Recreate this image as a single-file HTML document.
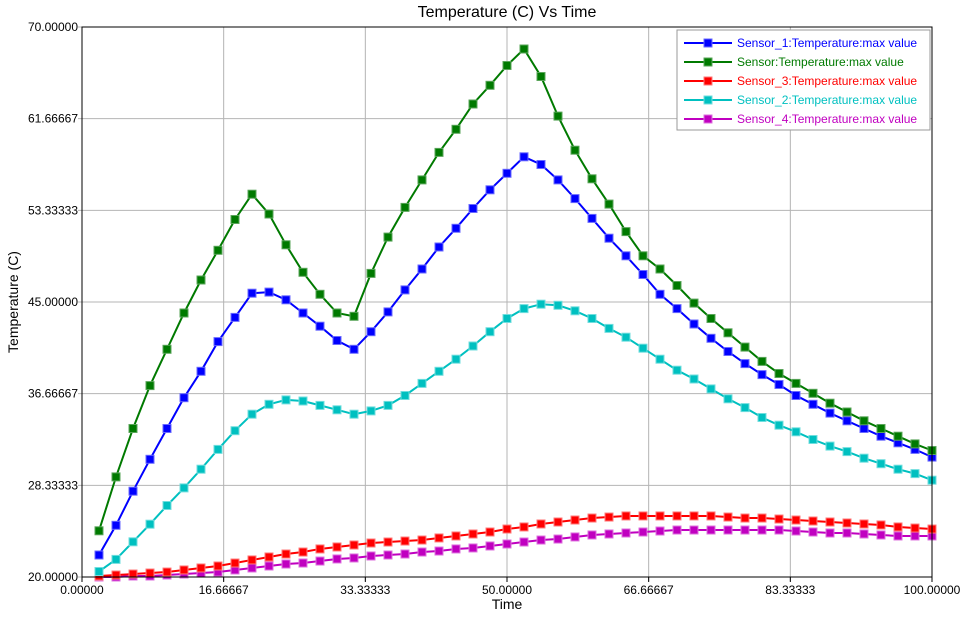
<!DOCTYPE html>
<html><head><meta charset="utf-8"><style>
body{margin:0;background:#fff;font-family:"Liberation Sans",Arial,sans-serif}
svg text{font-family:"Liberation Sans",Arial,sans-serif}
</style></head><body>
<svg id="chart" width="965" height="617" xmlns="http://www.w3.org/2000/svg">
<rect width="965" height="617" fill="#fff"/>
<text x="507" y="17" font-size="16" text-anchor="middle">Temperature (C) Vs Time</text>
<g id="grid"></g>
<g id="series"></g>
<rect x="82" y="27" width="850" height="550" fill="none" stroke="#000" stroke-width="1"/>
<text x="507" y="609" font-size="14" text-anchor="middle">Time</text>
<text transform="translate(18,302) rotate(-90)" font-size="14" text-anchor="middle">Temperature (C)</text>
<g id="legend"></g>
</svg>
<script>
const xVals=[];for(let i=1;i<=50;i++)xVals.push(i*2);
const xTicks=[0,16.66667,33.33333,50,66.66667,83.33333,100];
const xTickLabels=["0.00000","16.66667","33.33333","50.00000","66.66667","83.33333","100.00000"];
const yTicks=[20,28.33333,36.66667,45,53.33333,61.66667,70];
const yTickLabels=["20.00000","28.33333","36.66667","45.00000","53.33333","61.66667","70.00000"];
const seriesNames=["Sensor_1:Temperature:max value","Sensor:Temperature:max value","Sensor_3:Temperature:max value","Sensor_2:Temperature:max value","Sensor_4:Temperature:max value"];
const sensor1=[22.0,24.7,27.8,30.7,33.5,36.3,38.7,41.4,43.6,45.8,45.9,45.2,44.0,42.8,41.5,40.7,42.3,44.1,46.1,48.0,50.0,51.7,53.5,55.2,56.7,58.2,57.5,56.1,54.4,52.6,50.8,49.2,47.5,45.7,44.4,43.0,41.7,40.5,39.4,38.4,37.5,36.5,35.7,34.9,34.2,33.5,32.8,32.2,31.6,30.9];
const sensor=[24.2,29.1,33.5,37.4,40.7,44.0,47.0,49.7,52.5,54.8,53.0,50.2,47.7,45.7,44.0,43.7,47.6,50.9,53.6,56.1,58.6,60.7,63.0,64.7,66.5,68.0,65.5,61.9,58.8,56.2,53.9,51.4,49.2,48.0,46.5,44.9,43.5,42.2,40.9,39.6,38.5,37.6,36.7,35.8,35.0,34.2,33.5,32.8,32.1,31.5];
const sensor3=[20.09,20.18,20.27,20.36,20.45,20.64,20.82,21.0,21.27,21.55,21.82,22.09,22.27,22.55,22.73,22.91,23.09,23.18,23.27,23.36,23.55,23.73,23.91,24.09,24.36,24.55,24.82,25.0,25.18,25.36,25.45,25.55,25.55,25.55,25.55,25.55,25.55,25.45,25.36,25.36,25.27,25.18,25.09,25.0,24.91,24.82,24.73,24.55,24.45,24.36];
const sensor2=[20.5,21.6,23.2,24.8,26.5,28.1,29.8,31.6,33.3,34.8,35.7,36.1,36.0,35.6,35.2,34.8,35.1,35.6,36.5,37.6,38.7,39.8,41.0,42.3,43.5,44.4,44.8,44.7,44.2,43.5,42.6,41.8,40.8,39.8,38.8,38.0,37.1,36.2,35.4,34.5,33.8,33.2,32.5,31.9,31.4,30.8,30.3,29.8,29.4,28.8];
const sensor4=[20.0,20.0,20.09,20.09,20.18,20.27,20.36,20.45,20.64,20.82,21.0,21.18,21.27,21.45,21.64,21.73,21.91,22.0,22.09,22.27,22.36,22.55,22.64,22.82,23.0,23.18,23.36,23.45,23.64,23.82,23.91,24.0,24.09,24.18,24.27,24.27,24.27,24.27,24.27,24.27,24.27,24.18,24.09,24.0,24.0,23.91,23.82,23.73,23.73,23.73];
const NS="http://www.w3.org/2000/svg";
const X0=82,X1=932,Y0=577,Y1=27;
const xs=v=>X0+(v-0)/100*(X1-X0);
const ys=v=>Y0-(v-20)/50*(Y0-Y1);
function mk(t,a,p){const e=document.createElementNS(NS,t);for(const k in a)e.setAttribute(k,a[k]);p.appendChild(e);return e;}
const grid=document.getElementById('grid');
const svg=document.getElementById('chart');
xTicks.forEach((t,i)=>{
  const l=mk('line',{x1:xs(t),x2:xs(t),y1:Y1,y2:Y0+4,stroke:'#b4b4b4','stroke-width':1},grid);
  
  
  const tk=mk('line',{x1:xs(t),x2:xs(t),y1:Y0,y2:Y0+5,stroke:'#000'},grid);
  
  
  const tx=mk('text',{x:xs(t),y:594,'font-size':12,'text-anchor':'middle'},svg);
  tx.textContent=xTickLabels[i];
  
  
});
yTicks.forEach((t,i)=>{
  const l=mk('line',{x1:X0-4,x2:X1,y1:ys(t),y2:ys(t),stroke:'#b4b4b4','stroke-width':1},grid);
  
  
  const tx=mk('text',{x:78,y:ys(t)+4,'font-size':12,'text-anchor':'end'},svg);
  tx.textContent=yTickLabels[i];
  
  
});
const all=[[sensor1,'#0000ff','#6a6aff'],[sensor,'#007a00','#5aa55a'],[sensor3,'#ff0000','#ff7a7a'],[sensor2,'#00c0c0','#70dede'],[sensor4,'#c000c0','#de70de']];
const sg=document.getElementById('series');
const order=[4,2,3,0,1];
order.forEach(si=>{
  const [d,c,cl]=all[si];
  const g=mk('g',{},sg);
  
  
  const pl=mk('polyline',{points:d.map((v,i)=>xs(xVals[i])+','+ys(v)).join(' '),fill:'none',stroke:c,'stroke-width':2},g);
  
  
  d.forEach((v,i)=>{
    const r=mk('rect',{x:xs(xVals[i])-4,y:ys(v)-4,width:8,height:8,fill:c,stroke:cl,'stroke-width':1},g);
    
    
  });
});
const lg=document.getElementById('legend');
const box=mk('rect',{x:677,y:30,width:253,height:100,fill:'#fff',stroke:'#999'},lg);


seriesNames.forEach((n,i)=>{
  const [,c,cl]=all[i];const y=43+i*19;
  const g=mk('g',{},lg);
  
  
  mk('line',{x1:684,x2:732,y1:y,y2:y,stroke:c,'stroke-width':2},g);
  mk('rect',{x:704,y:y-4,width:8,height:8,fill:c,stroke:cl},g);
  const t=mk('text',{x:737,y:y+4,'font-size':12,fill:c},g);
  t.textContent=n;
});
</script>
</body></html>
